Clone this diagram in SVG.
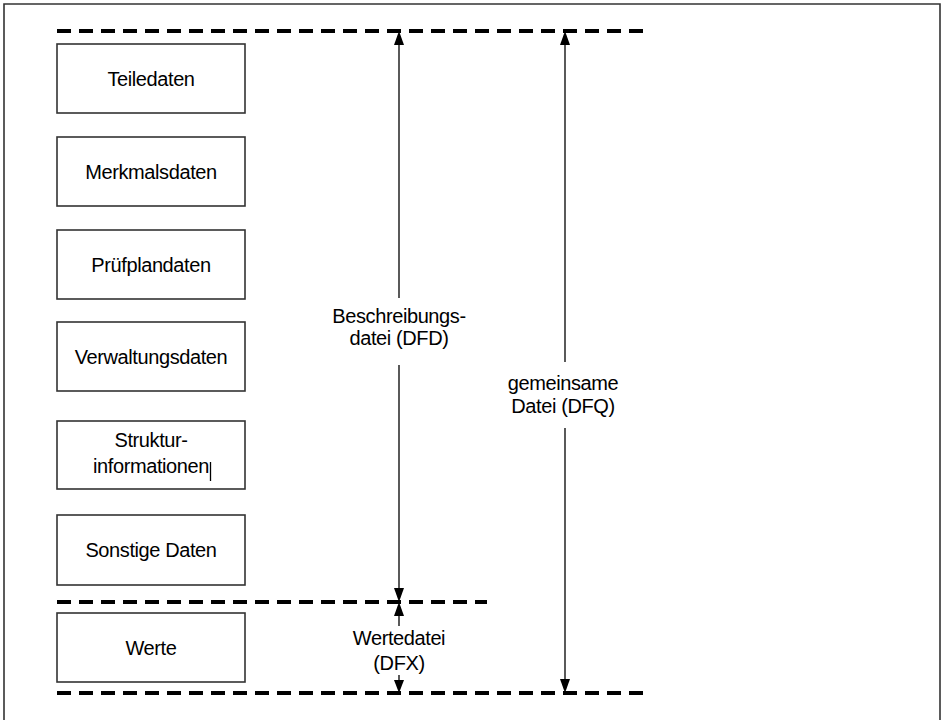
<svg xmlns="http://www.w3.org/2000/svg" width="943" height="720" viewBox="0 0 943 720">
<style>
.box{fill:#fff;stroke:#333;stroke-width:1.6}
.t{font-family:"Liberation Sans",Arial,sans-serif;font-size:20px;letter-spacing:-0.4px;fill:#000;text-anchor:middle}
.dash{stroke:#000;stroke-width:4;stroke-dasharray:14 8;fill:none}
.ln{stroke:#000;stroke-width:1.3;fill:none}
.ah{fill:#000}
</style>
<rect x="0" y="0" width="943" height="720" fill="#fff"/>
<path d="M4 725 V4 H940 V725" fill="none" stroke="#333" stroke-width="1.6"/>
<g id="separators">
<line class="dash" x1="57" y1="31" x2="645" y2="31"/>
<line class="dash" x1="57" y1="602" x2="487" y2="602"/>
<line class="dash" x1="57" y1="693" x2="645" y2="693"/>
</g>
<g id="n-teiledaten"><rect class="box" x="57" y="44" width="188" height="69"/><text class="t" x="151" y="86">Teiledaten</text></g>
<g id="n-merkmalsdaten"><rect class="box" x="57" y="137" width="188" height="69"/><text class="t" x="151" y="179">Merkmalsdaten</text></g>
<g id="n-pruefplandaten"><rect class="box" x="57" y="230" width="188" height="69"/><text class="t" x="151" y="272">Prüfplandaten</text></g>
<g id="n-verwaltungsdaten"><rect class="box" x="57" y="322" width="188" height="69"/><text class="t" x="151" y="364">Verwaltungsdaten</text></g>
<g id="n-struktur"><rect class="box" x="57" y="421" width="188" height="68"/><text class="t" x="151" y="447">Struktur-</text><text class="t" x="151" y="473">informationen</text><line x1="210.5" y1="462" x2="210.5" y2="481" stroke="#000" stroke-width="1.3"/></g>
<g id="n-sonstige"><rect class="box" x="57" y="515" width="188" height="70"/><text class="t" x="151" y="557">Sonstige Daten</text></g>
<g id="n-werte"><rect class="box" x="57" y="613" width="188" height="69"/><text class="t" x="151" y="655">Werte</text></g>
<g id="connectors">
<line class="ln" x1="399" y1="42" x2="399" y2="298"/>
<line class="ln" x1="399" y1="365" x2="399" y2="590"/>
<polygon class="ah" points="399,31 394,45 404,45"/>
<polygon class="ah" points="399,602 394,588 404,588"/>
<line class="ln" x1="565" y1="42" x2="565" y2="362"/>
<line class="ln" x1="565" y1="428" x2="565" y2="682"/>
<polygon class="ah" points="565,31 560,45 570,45"/>
<polygon class="ah" points="565,693 560,679 570,679"/>
<line class="ln" x1="399" y1="612" x2="399" y2="626"/>
<polygon class="ah" points="399,602 394,616 404,616"/>
<line class="ln" x1="399" y1="675" x2="399" y2="684"/>
<polygon class="ah" points="399,693 394,680 404,680"/>
</g>
<g id="labels">
<text class="t" x="399" y="323">Beschreibungs-</text>
<text class="t" x="399" y="345">datei (DFD)</text>
<text class="t" x="563" y="390">gemeinsame</text>
<text class="t" x="563" y="413">Datei (DFQ)</text>
<text class="t" x="399" y="645">Wertedatei</text>
<text class="t" x="399" y="670">(DFX)</text>
</g>
</svg>
